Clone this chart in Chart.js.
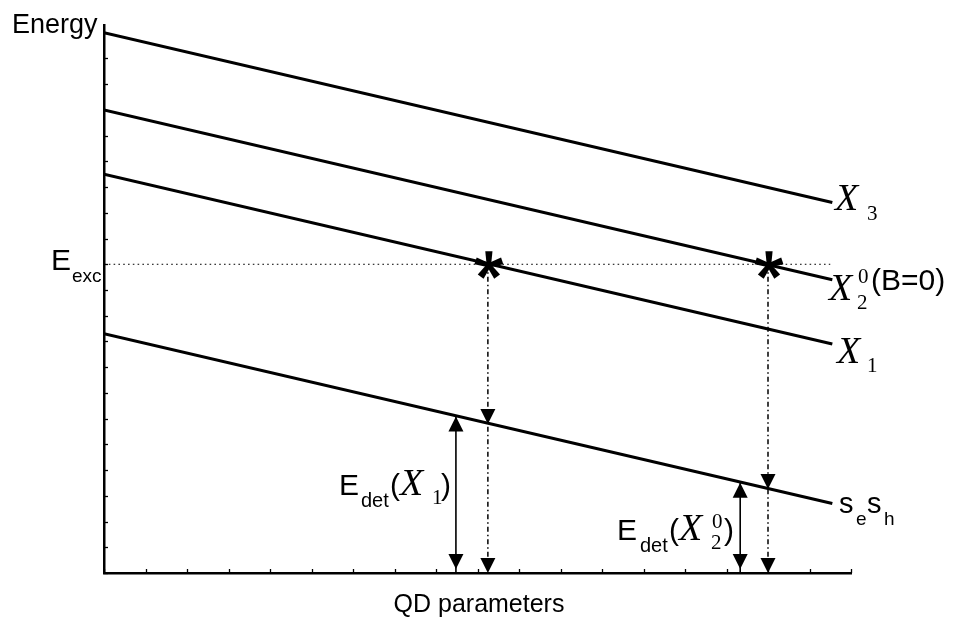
<!DOCTYPE html>
<html><head><meta charset="utf-8">
<script src="https://cdn.jsdelivr.net/npm/chart.js@4"></script>
<style>html,body{margin:0;padding:0;background:#fff}canvas{display:block}</style>
</head><body>
<canvas id="c" width="957" height="624"></canvas>
<script>
// ---- data (in axis units: x = QD parameter, y = energy) ----
const levelNames = ['X3', 'X2', 'X1', 'sesh'];
const levelStartX = [0, 0, 0, 0];
const levelEndX = [17.55, 17.55, 17.55, 17.55];
const levelStartY = [21.0, 18.0, 15.5, 9.3];
const levelEndY = [14.4, 11.4, 8.9, 2.7];
const excEnergy = 12.0;
const excLineX = [0, 17.5];
const starX = [9.25, 16.0];          // excitation resonance points
const seshAtStarY = [5.83, 3.3];      // s_e s_h level under each star
const detArrowX = [8.48, 15.33];      // E_det double arrows
const detArrowTopY = [6.12, 3.55];
const axisMin = [0, 0];
const axisMax = [18, 21.3];

const datasets = [];
levelNames.forEach((n, i) => {
  datasets.push({label: n, data: [{x: levelStartX[i], y: levelStartY[i]}, {x: levelEndX[i], y: levelEndY[i]}],
    borderColor: '#000', borderWidth: 3, pointRadius: 0, showLine: true, fill: false});
});
datasets.push({label: 'Eexc', data: [{x: excLineX[0], y: excEnergy}, {x: excLineX[1], y: excEnergy}],
  borderColor: '#000', borderWidth: 1, borderDash: [1.6, 3.2], pointRadius: 0, showLine: true});
starX.forEach((sx, i) => {
  datasets.push({label: 'drop' + i, data: [{x: sx, y: excEnergy}, {x: sx, y: 0}],
    borderColor: '#000', borderWidth: 1.5, borderDash: [5, 3, 1.5, 3], pointRadius: 0, showLine: true});
});
detArrowX.forEach((ax, i) => {
  datasets.push({label: 'det' + i, data: [{x: ax, y: detArrowTopY[i]}, {x: ax, y: 0}],
    borderColor: '#000', borderWidth: 1.6, pointRadius: 0, showLine: true});
});

function arrowHead(ctx, x, y, dir) { // dir 1: points down, -1: up
  const w = 15, h = 15;
  ctx.beginPath();
  ctx.moveTo(x, y);
  ctx.lineTo(x - w / 2, y - dir * h);
  ctx.lineTo(x + w / 2, y - dir * h);
  ctx.closePath();
  ctx.fill();
}
function star(ctx, x, y) {
  ctx.save();
  ctx.lineCap = 'butt';
  for (let k = 0; k < 5; k++) {
    const a = k * 2 * Math.PI / 5;
    const ca = Math.cos(a), sa = Math.sin(a);
    // tapered arm: wider at tip
    const L = 14, w0 = 2.2, w1 = 3.6;
    ctx.beginPath();
    ctx.moveTo(x - ca * w0, y - sa * w0);
    ctx.lineTo(x + ca * w0, y + sa * w0);
    ctx.lineTo(x + sa * L + ca * w1, y - ca * L + sa * w1);
    ctx.lineTo(x + sa * L - ca * w1, y - ca * L - sa * w1);
    ctx.closePath();
    ctx.fill();
  }
  ctx.beginPath(); ctx.arc(x, y, 3.5, 0, 2 * Math.PI); ctx.fill();
  ctx.restore();
}
const SANS = '"Liberation Sans", Arial, Helvetica, sans-serif';
const SERIF = '"Liberation Serif", "Times New Roman", serif';
function txt(ctx, s, x, y, font, align) {
  ctx.font = font; ctx.textAlign = align || 'left'; ctx.textBaseline = 'alphabetic';
  ctx.fillText(s, x, y);
}

const overlay = {
  id: 'overlay',
  afterDatasetsDraw(chart) {
    const ctx = chart.ctx, xs = chart.scales.x, ys = chart.scales.y;
    ctx.save();
    ctx.fillStyle = '#000'; ctx.strokeStyle = '#000';
    starX.forEach((sx, i) => {
      const px = xs.getPixelForValue(sx);
      arrowHead(ctx, px, ys.getPixelForValue(seshAtStarY[i]) + 1, 1);
      arrowHead(ctx, px, ys.getPixelForValue(0), 1);
      star(ctx, px + 1, ys.getPixelForValue(excEnergy) + 1);
    });
    detArrowX.forEach((ax, i) => {
      const px = xs.getPixelForValue(ax);
      arrowHead(ctx, px, ys.getPixelForValue(detArrowTopY[i]) + 1, -1);
      arrowHead(ctx, px, ys.getPixelForValue(0) - 4, 1);
    });
    ctx.restore();
  },
  afterDraw(chart) {
    const ctx = chart.ctx, xs = chart.scales.x, ys = chart.scales.y;
    const x0 = xs.getPixelForValue(0), y0 = ys.getPixelForValue(0);
    ctx.save();
    ctx.strokeStyle = '#000'; ctx.lineWidth = 1.3;
    ys.ticks.forEach(t => {
      const py = Math.round(ys.getPixelForValue(t.value)) + 0.5;
      ctx.beginPath(); ctx.moveTo(x0, py); ctx.lineTo(x0 + 4, py); ctx.stroke();
    });
    xs.ticks.forEach(t => {
      const px = Math.round(xs.getPixelForValue(t.value)) + 0.5;
      ctx.beginPath(); ctx.moveTo(px, y0); ctx.lineTo(px, y0 - 4); ctx.stroke();
    });
    ctx.fillStyle = '#000';
    // axis titles
    txt(ctx, 'Energy', 12, 33, '27px ' + SANS);
    txt(ctx, 'QD parameters', 479, 612, '25px ' + SANS, 'center');
    // E_exc
    txt(ctx, 'E', 51, 270, '30px ' + SANS);
    txt(ctx, 'exc', 72, 282, '19px ' + SANS);
    // level labels
    const XF = 'italic 38px ' + SERIF, SF = '21px ' + SERIF;
    txt(ctx, 'X', 835, 210, XF);
    txt(ctx, '3', 867, 220, SF);
    txt(ctx, 'X', 829, 300, XF);
    txt(ctx, '2', 857, 309, SF);
    txt(ctx, '0', 858, 283, SF);
    txt(ctx, '(B=0)', 871, 290, '30px ' + SANS);
    txt(ctx, 'X', 837, 363, XF);
    txt(ctx, '1', 867, 372, SF);
    txt(ctx, 's', 839, 513, '29px ' + SANS);
    txt(ctx, 'e', 856, 525, '19px ' + SANS);
    txt(ctx, 's', 867, 513, '29px ' + SANS);
    txt(ctx, 'h', 884, 525, '19px ' + SANS);
    // E_det(X1)
    txt(ctx, 'E', 339, 495, '30px ' + SANS);
    txt(ctx, 'det', 361, 507, '20px ' + SANS);
    txt(ctx, '(', 390, 495, '30px ' + SANS);
    txt(ctx, 'X', 400, 495, XF);
    txt(ctx, '1', 432, 504, SF);
    txt(ctx, ')', 441, 495, '30px ' + SANS);
    // E_det(X2^0)
    txt(ctx, 'E', 617, 540, '30px ' + SANS);
    txt(ctx, 'det', 640, 552, '20px ' + SANS);
    txt(ctx, '(', 669, 540, '30px ' + SANS);
    txt(ctx, 'X', 679, 540, XF);
    txt(ctx, '2', 711, 549, SF);
    txt(ctx, '0', 712, 528, SF);
    txt(ctx, ')', 724, 540, '30px ' + SANS);
    ctx.restore();
  }
};

new Chart(document.getElementById('c'), {
  type: 'scatter',
  data: {datasets},
  options: {
    responsive: false, animation: false, devicePixelRatio: 1,
    layout: {padding: {left: 104, top: 25, right: 106, bottom: 51}},
    plugins: {legend: {display: false}, tooltip: {enabled: false}, title: {display: false}},
    elements: {line: {tension: 0, borderCapStyle: 'butt'}},
    scales: {
      x: {type: 'linear', min: axisMin[0], max: axisMax[0],
        ticks: {display: false, stepSize: 1, includeBounds: false},
        grid: {display: false, drawTicks: false},
        border: {display: true, color: '#000', width: 2.5}},
      y: {type: 'linear', min: axisMin[1], max: axisMax[1],
        ticks: {display: false, stepSize: 1, includeBounds: false},
        grid: {display: false, drawTicks: false},
        border: {display: true, color: '#000', width: 2.5}}
    }
  },
  plugins: [overlay]
});
</script>
</body></html>
